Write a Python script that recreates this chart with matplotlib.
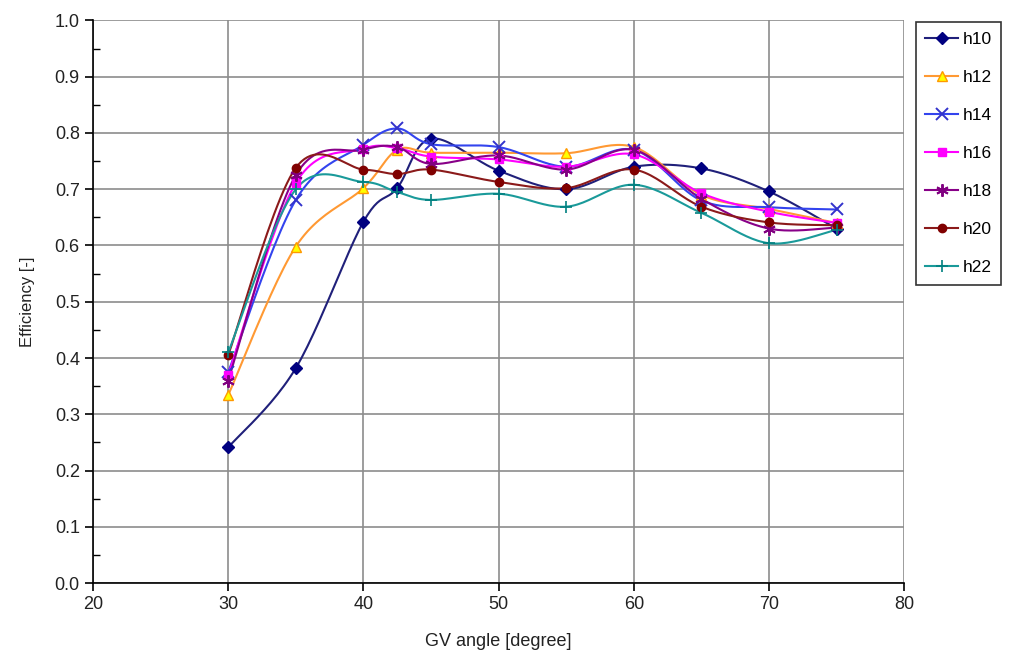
import numpy as np
import matplotlib
matplotlib.use("Agg")
import matplotlib.pyplot as plt
from matplotlib.ticker import MultipleLocator

# GV angle [degree]
angles = [30, 35, 40, 42.5, 45, 50, 55, 60, 65, 70, 75]

h10 = [0.241, 0.382, 0.642, 0.702, 0.790, 0.733, 0.700, 0.740, 0.737, 0.696, 0.630]
h12 = [0.334, 0.598, 0.702, 0.770, 0.765, 0.765, 0.764, 0.775, 0.690, 0.665, 0.640]
h14 = [0.375, 0.681, 0.779, 0.808, 0.780, 0.775, 0.740, 0.770, 0.680, 0.668, 0.664]
h16 = [0.370, 0.711, 0.772, 0.773, 0.758, 0.753, 0.740, 0.762, 0.693, 0.660, 0.640]
h18 = [0.360, 0.725, 0.770, 0.775, 0.745, 0.760, 0.735, 0.770, 0.683, 0.630, 0.632]
h20 = [0.405, 0.738, 0.735, 0.727, 0.735, 0.713, 0.702, 0.735, 0.669, 0.641, 0.636]
h22 = [0.410, 0.700, 0.713, 0.695, 0.681, 0.692, 0.669, 0.708, 0.658, 0.604, 0.628]

labels = ["h10", "h12", "h14", "h16", "h18", "h20", "h22"]
series = [h10, h12, h14, h16, h18, h20, h22]

styles = [
    dict(color="#20207a", marker="D", ms=6, mfc="#000080", mec="#000080"),
    dict(color="#ff9933", marker="^", ms=7, mfc="#ffff00", mec="#ff9900"),
    dict(color="#3344ee", marker="x", ms=8, mfc="#3333cc", mec="#3333cc", mew=1.4),
    dict(color="#ff00ff", marker="s", ms=6, mfc="#ff00ff", mec="#ff00ff"),
    dict(color="#880088", marker=(6, 2, 0), ms=9, mfc="#800080", mec="#800080", mew=1.4),
    dict(color="#8b1a1a", marker="o", ms=6, mfc="#800000", mec="#800000"),
    dict(color="#1a9a9a", marker="+", ms=9, mfc="#008080", mec="#008080", mew=1.2),
]


def smooth(x, y, n=24):
    # Catmull-Rom curve through the points, like Excel's smoothed lines
    p = np.column_stack([x, y]).astype(float)
    p = np.vstack([p[0], p, p[-1]])
    out = []
    t = np.linspace(0, 1, n, endpoint=False)
    for i in range(1, len(p) - 2):
        p0, p1, p2, p3 = p[i - 1], p[i], p[i + 1], p[i + 2]
        t2, t3 = t * t, t * t * t
        seg = 0.5 * ((2 * p1)[None, :]
                     + (-p0 + p2)[None, :] * t[:, None]
                     + (2 * p0 - 5 * p1 + 4 * p2 - p3)[None, :] * t2[:, None]
                     + (-p0 + 3 * p1 - 3 * p2 + p3)[None, :] * t3[:, None])
        out.append(seg)
    out.append(p[-2][None, :])
    out = np.vstack(out)
    return out[:, 0], out[:, 1]


plt.rcParams["font.family"] = ["Liberation Sans", "DejaVu Sans"]

fig = plt.figure(figsize=(10.14, 6.67), dpi=100)
ax = fig.add_axes([0.0917, 0.1259, 0.80, 0.8434])

handles = []
for lab, ys, st in zip(labels, series, styles):
    sx, sy = smooth(angles, ys)
    ax.plot(sx, sy, color=st["color"], lw=1.5, zorder=2)
    ax.plot(angles, ys, ls="none", marker=st["marker"], ms=st["ms"],
            mfc=st["mfc"], mec=st["mec"], mew=st.get("mew", 1.0), zorder=3)
    h, = ax.plot([], [], color=st["color"], lw=1.5, marker=st["marker"],
                 ms=st["ms"], mfc=st["mfc"], mec=st["mec"], mew=st.get("mew", 1.0))
    handles.append(h)

ax.set_xlim(20, 80)
ax.set_ylim(0, 1.0)
ax.xaxis.set_major_locator(MultipleLocator(10))
ax.yaxis.set_major_locator(MultipleLocator(0.1))
ax.yaxis.set_minor_locator(MultipleLocator(0.05))
ax.yaxis.set_major_formatter(plt.FormatStrFormatter("%.1f"))
ax.grid(True, which="major", color="#8c8c8c", lw=1.2, zorder=0)
ax.set_axisbelow(True)

for s in ["top", "right"]:
    ax.spines[s].set_visible(False)
for s in ["left", "bottom"]:
    ax.spines[s].set_color("black")
    ax.spines[s].set_linewidth(1.2)

ax.tick_params(axis="both", which="major", direction="out", length=6, width=1.2,
               labelsize=13, colors="black", labelcolor="#222222")
ax.tick_params(axis="y", which="minor", direction="in", length=5, width=1.0)

ax.set_xlabel("GV angle [degree]", fontsize=13, color="#222222", labelpad=14)
ax.set_ylabel("Efficiency [-]", fontsize=12, color="#222222", labelpad=14)

leg = fig.legend(handles, labels, loc="upper left", bbox_to_anchor=(0.903, 0.967),
                 borderaxespad=0, frameon=True, fancybox=False, fontsize=12.5,
                 handlelength=1.9, labelspacing=1.32, borderpad=0.55, handletextpad=0.25)
leg.get_frame().set_edgecolor("black")
leg.get_frame().set_linewidth(1.2)

fig.savefig("out.png", dpi=100)
